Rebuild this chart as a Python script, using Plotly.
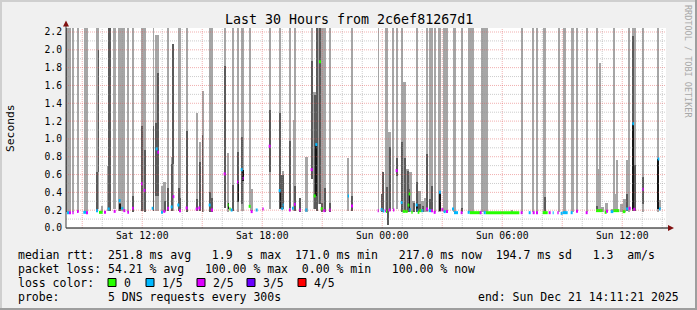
import plotly.graph_objects as go
from datetime import datetime, timedelta

# ---------------- data ----------------
START = datetime(2025, 12, 20, 8, 11, 21)
END = datetime(2025, 12, 21, 14, 11, 21)
Y_TOP = 2.245

tick_times = [datetime(2025, 12, 20, 12), datetime(2025, 12, 20, 18), datetime(2025, 12, 21, 0),
              datetime(2025, 12, 21, 6), datetime(2025, 12, 21, 12)]
tick_text = ["Sat 12:00", "Sat 18:00", "Sun 00:00", "Sun 06:00", "Sun 12:00"]
y_ticks = [0.0, 0.2, 0.4, 0.6, 0.8, 1.0, 1.2, 1.4, 1.6, 1.8, 2.0, 2.2]

# smoke bands: (minutes from start begin, end, low s, high s)
smoke_outer = [
    (0, 14, 0.176, 2.25), (19, 22, 0.176, 2.25), (35, 38, 0.176, 2.25), (53, 67, 0.176, 2.25),
    (90, 99, 0.213, 2.25), (104, 110, 0.176, 0.247), (124, 127, 0.195, 0.693), (141, 151, 0.213, 2.25),
    (157, 177, 0.195, 2.25), (184, 188, 0.176, 2.25), (200, 203, 0.195, 2.25), (225, 240, 0.195, 2.25),
    (261, 264, 0.195, 2.25), (268, 279, 0.195, 2.169), (284, 292, 0.176, 0.476), (292, 301, 0.176, 0.517),
    (305, 309, 0.195, 2.25), (314, 324, 0.195, 0.801), (336, 345, 0.195, 2.25), (359, 366, 0.176, 2.25),
    (389, 397, 0.195, 1.292), (398, 405, 0.195, 0.966), (409, 413, 0.176, 1.543), (429, 441, 0.176, 2.25),
    (473, 479, 0.221, 2.25), (485, 488, 0.176, 0.843), (500, 505, 0.195, 2.25), (515, 519, 0.176, 2.25),
    (524, 534, 0.195, 2.25), (549, 554, 0.251, 2.25), (551, 560, 0.195, 0.438), (608, 614, 0.213, 2.25),
    (638, 646, 0.213, 2.25), (649, 653, 0.213, 0.644), (669, 675, 0.195, 2.25), (681, 690, 0.195, 1.213),
    (684, 690, 0.195, 2.25), (699, 705, 0.176, 0.337), (718, 725, 0.176, 0.798), (734, 742, 0.551, 2.25),
    (742, 755, 0.213, 1.528), (757, 766, 0.27, 2.25), (766, 772, 0.176, 2.25), (772, 780, 0.195, 2.25),
    (788, 795, 0.176, 2.25), (845, 848, 0.195, 0.787), (855, 861, 0.195, 2.25),
    (936, 939, 0.176, 2.25), (944, 952, 0.176, 0.382), (958, 966, 0.213, 2.25), (966, 974, 0.195, 1.082),
    (980, 984, 0.213, 2.25), (989, 996, 0.213, 2.25), (1004, 1012, 0.176, 2.25), (1011, 1019, 0.176, 1.64),
    (1019, 1030, 0.176, 0.659), (1028, 1037, 0.176, 0.633), (1038, 1046, 0.176, 0.307),
    (1049, 1055, 0.176, 2.25), (1056, 1066, 0.176, 0.419), (1066, 1073, 0.176, 0.307),
    (1075, 1081, 0.176, 0.337), (1079, 1087, 0.176, 2.25), (1089, 1096, 0.176, 2.25),
    (1094, 1102, 0.176, 2.25), (1103, 1111, 0.176, 2.25), (1116, 1126, 0.176, 2.25),
    (1131, 1146, 0.176, 2.25), (1161, 1169, 0.176, 2.25), (1184, 1190, 0.176, 2.25),
    (1205, 1224, 0.176, 2.25), (1245, 1250, 0.176, 2.25), (1252, 1266, 0.176, 2.25),
    (1336, 1340, 0.176, 0.202),
    (1364, 1371, 0.176, 2.25), (1400, 1404, 0.176, 2.25), (1409, 1416, 0.176, 2.25),
    (1430, 1439, 0.176, 2.25), (1476, 1480, 0.176, 2.25), (1490, 1500, 0.176, 2.25),
    (1515, 1524, 0.176, 2.25), (1529, 1535, 0.176, 2.25), (1559, 1565, 0.176, 2.25),
    (1589, 1595, 0.195, 2.25), (1594, 1601, 0.195, 0.667), (1599, 1606, 0.195, 1.854),
    (1605, 1614, 0.176, 0.236), (1618, 1626, 0.176, 0.277), (1634, 1640, 0.176, 0.213),
    (1641, 1646, 0.176, 2.25), (1642, 1650, 0.176, 0.382), (1649, 1656, 0.176, 0.764),
    (1663, 1672, 0.176, 0.27), (1670, 1679, 0.176, 0.326), (1679, 1687, 0.195, 0.764),
    (1686, 1690, 0.176, 2.25), (1699, 1709, 0.195, 2.25), (1729, 1733, 0.176, 2.25),
    (1775, 1780, 0.176, 2.25), (1778, 1784, 0.213, 0.315),
]
smoke_inner = [
    (0, 3, 0.176, 2.25), (90, 97, 0.195, 0.629), (96, 99, 0.629, 2.0), (127, 135, 0.195, 2.25),
    (159, 165, 0.195, 0.277), (200, 203, 0.176, 0.36), (225, 231, 0.195, 1.15), (233, 240, 0.176, 0.876),
    (261, 264, 0.195, 1.15), (272, 279, 0.36, 1.742), (268, 279, 0.36, 1.18), (294, 300, 0.195, 0.307),
    (305, 309, 0.195, 0.449), (316, 322, 0.195, 0.719), (320, 323, 0.719, 2.067), (336, 340, 0.195, 0.449),
    (338, 346, 0.195, 0.337), (359, 366, 0.176, 1.094), (390, 396, 0.195, 0.326), (399, 405, 0.195, 0.742),
    (409, 411, 0.176, 1.049), (429, 436, 0.176, 0.40), (436, 441, 0.176, 0.337),
    (473, 479, 0.221, 1.824), (500, 504, 0.195, 0.483), (515, 518, 0.288, 0.854), (525, 532, 0.27, 1.022),
    (608, 614, 0.633, 1.326), (638, 645, 0.213, 1.296), (645, 653, 0.213, 0.60), (669, 674, 0.23, 0.981),
    (683, 689, 0.195, 0.472), (699, 704, 0.176, 0.337), (734, 741, 0.551, 1.88), (744, 753, 0.213, 1.491),
    (750, 757, 0.195, 2.25), (759, 766, 0.27, 2.25), (766, 771, 0.176, 0.281), (774, 780, 0.176, 0.449),
    (789, 794, 0.176, 0.281), (855, 861, 0.195, 0.36),
    (944, 950, 0.176, 0.382), (948, 952, 0.176, 0.629), (960, 966, 0.176, 0.459), (964, 968, 0.034, 0.19),
    (968, 974, 0.195, 0.914), (989, 996, 0.58, 0.787), (1004, 1011, 0.176, 0.966), (1013, 1020, 0.176, 0.787),
    (1022, 1028, 0.176, 0.644), (1028, 1033, 0.176, 0.438), (1042, 1048, 0.176, 0.285),
    (1049, 1055, 0.176, 0.517), (1057, 1066, 0.176, 0.27), (1067, 1073, 0.176, 0.247),
    (1080, 1086, 0.195, 0.831), (1089, 1096, 0.202, 0.326), (1095, 1101, 0.206, 0.472),
    (1119, 1124, 0.195, 0.40), (1185, 1190, 0.176, 0.225),
    (1433, 1439, 0.195, 0.348), (1590, 1595, 0.195, 0.251), (1681, 1687, 0.195, 0.386),
    (1699, 1702, 0.195, 2.157), (1702, 1710, 0.195, 0.708), (1730, 1733, 0.27, 0.577),
]
smoke_core = [
    (161, 164, 0.213, 0.27), (486, 489, 0.213, 0.285), (516, 519, 0.288, 0.517), (529, 532, 0.53, 0.655),
    (642, 645, 0.221, 0.419), (748, 751, 0.36, 0.936), (1029, 1032, 0.195, 0.382), (1051, 1054, 0.195, 0.27),
    (1120, 1123, 0.195, 0.40), (1699, 1702, 0.213, 1.169), (1775, 1778, 0.213, 0.775),
]

# median rtt: (begin, end, seconds, lost pings out of 5)
medians = [
    (3, 9, 0.172, 1), (9, 15, 0.172, 2), (19, 23, 0.172, 2), (33, 38, 0.184, 2), (52, 60, 0.176, 1),
    (60, 66, 0.172, 2), (90, 96, 0.195, 1), (99, 110, 0.176, 0), (114, 120, 0.176, 2), (125, 131, 0.213, 1),
    (143, 149, 0.187, 2), (158, 164, 0.307, 1), (166, 172, 0.221, 1), (172, 178, 0.195, 2),
    (184, 189, 0.176, 2), (198, 203, 0.221, 2), (225, 230, 0.498, 2), (233, 238, 0.423, 2),
    (257, 262, 0.221, 1), (269, 275, 0.888, 1), (274, 279, 0.85, 2), (285, 291, 0.176, 1),
    (292, 298, 0.187, 2), (304, 309, 0.221, 2), (314, 320, 0.236, 1), (320, 325, 0.352, 2),
    (334, 340, 0.258, 1), (339, 345, 0.195, 2), (359, 365, 0.225, 2), (389, 395, 0.213, 2),
    (397, 403, 0.225, 2), (428, 434, 0.258, 1), (435, 441, 0.202, 2),
    (473, 479, 0.607, 2), (485, 488, 0.258, 0), (490, 494, 0.213, 0), (494, 500, 0.202, 1),
    (513, 517, 0.517, 2), (524, 530, 0.655, 1), (530, 533, 0.558, 2), (548, 554, 0.243, 0),
    (554, 560, 0.184, 2), (569, 575, 0.202, 1), (589, 593, 0.213, 2), (608, 614, 0.918, 2),
    (638, 644, 0.419, 1), (646, 652, 0.217, 1), (650, 653, 0.258, 1), (669, 674, 0.202, 2),
    (678, 683, 0.221, 1), (684, 689, 0.266, 2), (700, 704, 0.202, 2), (718, 724, 0.202, 1),
    (734, 740, 0.655, 2), (748, 754, 0.936, 1), (743, 749, 0.36, 0), (759, 765, 1.865, 0),
    (764, 770, 0.217, 0), (772, 778, 0.195, 2), (790, 794, 0.202, 2), (845, 849, 0.36, 1),
    (855, 861, 0.247, 2),
    (935, 938, 0.195, 2), (944, 950, 0.206, 1), (950, 955, 0.191, 1), (957, 960, 0.195, 2),
    (960, 963, 0.184, 0), (968, 974, 0.202, 2), (981, 985, 0.202, 2), (989, 995, 0.644, 2),
    (1004, 1010, 0.285, 1), (1010, 1018, 0.187, 0), (1018, 1025, 0.187, 0), (1025, 1030, 0.258, 0),
    (1028, 1033, 0.382, 0), (1030, 1035, 0.206, 1), (1036, 1040, 0.176, 0), (1049, 1055, 0.258, 1),
    (1052, 1055, 0.202, 1), (1055, 1060, 0.176, 0), (1060, 1070, 0.195, 0), (1066, 1072, 0.195, 1),
    (1080, 1086, 0.213, 2), (1088, 1096, 0.195, 1), (1095, 1101, 0.195, 2), (1103, 1109, 0.176, 2),
    (1119, 1125, 0.40, 1), (1126, 1132, 0.206, 2), (1133, 1139, 0.184, 1), (1140, 1146, 0.184, 2),
    (1158, 1164, 0.213, 1), (1164, 1176, 0.172, 1), (1184, 1190, 0.172, 2), (1205, 1211, 0.176, 1),
    (1211, 1245, 0.172, 0), (1241, 1247, 0.172, 2), (1253, 1259, 0.172, 1), (1259, 1360, 0.172, 0),
    (1364, 1370, 0.172, 2), (1388, 1394, 0.172, 1), (1400, 1406, 0.172, 2), (1410, 1416, 0.172, 2),
    (1430, 1445, 0.172, 0), (1448, 1454, 0.172, 2), (1460, 1463, 0.172, 1), (1474, 1478, 0.172, 2),
    (1484, 1490, 0.165, 1), (1490, 1505, 0.172, 1), (1514, 1520, 0.172, 1), (1530, 1536, 0.187, 2),
    (1559, 1565, 0.172, 2), (1590, 1610, 0.195, 0), (1616, 1622, 0.176, 0), (1620, 1626, 0.187, 2),
    (1634, 1642, 0.184, 1), (1642, 1650, 0.195, 0), (1650, 1660, 0.195, 0), (1670, 1678, 0.184, 0),
    (1680, 1686, 0.213, 1), (1688, 1694, 0.221, 2), (1699, 1704, 1.169, 1), (1702, 1708, 0.21, 2),
    (1729, 1733, 0.434, 2), (1775, 1780, 0.775, 1), (1779, 1784, 0.213, 1),
]

loss_labels = ["0", "1/5", "2/5", "3/5", "4/5"]
loss_colors = ["#26ff00", "#00b8ff", "#dd00ff", "#6a00ff", "#ff0000"]

legend_lines = [
    "median rtt:  251.8 ms avg   1.9  s max  171.0 ms min   217.0 ms now  194.7 ms sd   1.3  am/s",
    "packet loss: 54.21 % avg   100.00 % max  0.00 % min   100.00 % now",
    "loss color:",
    "probe:       5 DNS requests every 300s",
]
end_text = "end: Sun Dec 21 14:11:21 2025"
title_text = "Last 30 Hours from 2c6ef81267d1"

# ---------------- figure ----------------
W, H = 697, 310
L, R, T, B = 66, 31, 28, 82
PW, PH = W - L - R, H - T - B
MONO = "DejaVu Sans Mono"
LEG_SIZE = 11.5


def px(xp):
    return (xp - L) / PW


def py(yp):
    return (T + PH - yp) / PH


def t(m):
    return START + timedelta(minutes=m)


fig = go.Figure()


def add_bands(bands, color):
    fig.add_trace(go.Bar(
        x=[t(b[0]) for b in bands],
        y=[b[3] - b[2] for b in bands],
        base=[b[2] for b in bands],
        width=[(b[1] - b[0]) * 60000 for b in bands],
        offset=0,
        marker=dict(color=color, line=dict(width=0)),
        hoverinfo="skip",
    ))


add_bands(smoke_outer, "#a6a6a6")
add_bands(smoke_inner, "#5a5a5a")
add_bands(smoke_core, "#161616")

for li, col in enumerate(loss_colors):
    xs, ys = [], []
    for b, e, v, l in medians:
        if l == li:
            xs += [t(b), t(e), None]
            ys += [v, v, None]
    if xs:
        fig.add_trace(go.Scatter(x=xs, y=ys, mode="lines", line=dict(color=col, width=3),
                                 hoverinfo="skip"))

MAJ = "rgba(224,80,80,0.45)"
MIN = "rgba(143,143,143,0.45)"
shapes = []
# grid (drawn above the smoke, like rrdtool)
h = START.replace(minute=0, second=0) + timedelta(hours=1)
while h < END:
    major = h.hour % 3 == 0
    shapes.append(dict(type="line", xref="x", yref="paper", x0=h, x1=h, y0=0, y1=1, layer="above",
                       line=dict(color=MAJ if major else MIN, width=1, dash="1px,1px")))
    h += timedelta(hours=1)
for k in range(1, 23):
    v = k / 10
    major = k % 2 == 0
    shapes.append(dict(type="line", xref="paper", yref="y", x0=0, x1=1, y0=v, y1=v, layer="above",
                       line=dict(color=MAJ if major else MIN, width=1, dash="1px,1px")))

# axes with arrows
shapes.append(dict(type="line", xref="paper", yref="paper", x0=px(66), x1=px(670), y0=0, y1=0,
                   line=dict(color="#000000", width=1), layer="above"))
shapes.append(dict(type="line", xref="paper", yref="paper", x0=0, x1=0, y0=0, y1=py(24),
                   line=dict(color="#404040", width=1), layer="above"))
shapes.append(dict(type="path", xref="paper", yref="paper",
                   path=f"M {px(668)},{py(225)} L {px(674)},{py(228)} L {px(668)},{py(231)} Z",
                   fillcolor="#801010", line=dict(width=0), layer="above"))
shapes.append(dict(type="path", xref="paper", yref="paper",
                   path=f"M {px(63)},{py(26.5)} L {px(66)},{py(20.5)} L {px(69)},{py(26.5)} Z",
                   fillcolor="#801010", line=dict(width=0), layer="above"))

# frame shading
shapes += [
    dict(type="rect", xref="paper", yref="paper", x0=px(0), x1=px(W), y0=py(0), y1=py(2),
         fillcolor="#cfcfcf", line=dict(width=0)),
    dict(type="rect", xref="paper", yref="paper", x0=px(0), x1=px(2), y0=py(0), y1=py(H),
         fillcolor="#cfcfcf", line=dict(width=0)),
    dict(type="rect", xref="paper", yref="paper", x0=px(0), x1=px(W), y0=py(H - 2), y1=py(H),
         fillcolor="#9e9e9e", line=dict(width=0)),
    dict(type="rect", xref="paper", yref="paper", x0=px(W - 2), x1=px(W), y0=py(0), y1=py(H),
         fillcolor="#9e9e9e", line=dict(width=0)),
]

annotations = []
annotations.append(dict(text=title_text, x=px(W / 2), y=py(20), xref="paper", yref="paper",
                        xanchor="center", yanchor="middle", showarrow=False,
                        font=dict(family=MONO, size=13.3, color="#000")))
annotations.append(dict(text="Seconds", x=px(10), y=py(T + PH / 2), xref="paper", yref="paper",
                        xanchor="center", yanchor="middle", textangle=-90, showarrow=False,
                        font=dict(family=MONO, size=11.3, color="#000")))
annotations.append(dict(text="RRDTOOL / TOBI OETIKER", x=px(688), y=py(61), xref="paper", yref="paper",
                        xanchor="center", yanchor="middle", textangle=90, showarrow=False,
                        font=dict(family=MONO, size=8.5, color="#a8a8a8")))

line_y = [254.5, 268.5, 282.5, 296.5]
for txt, yy in zip(legend_lines, line_y):
    annotations.append(dict(text=txt.replace(" ", "\u00a0"), x=px(16), y=py(yy), xref="paper",
                            yref="paper", xanchor="left", yanchor="middle", showarrow=False,
                            font=dict(family=MONO, size=LEG_SIZE, color="#000")))
annotations.append(dict(text=end_text.replace(" ", "\u00a0"), x=px(681), y=py(line_y[3]), xref="paper",
                        yref="paper", xanchor="right", yanchor="middle", showarrow=False,
                        font=dict(family=MONO, size=LEG_SIZE, color="#000")))

box_x = [108, 146, 197, 247, 298]
for bx, lab, col in zip(box_x, loss_labels, loss_colors):
    shapes.append(dict(type="rect", xref="paper", yref="paper", x0=px(bx), x1=px(bx + 8),
                       y0=py(line_y[2] + 4), y1=py(line_y[2] - 4), fillcolor=col,
                       line=dict(color="#000", width=1)))
    annotations.append(dict(text=lab, x=px(bx + 14), y=py(line_y[2]), xref="paper", yref="paper",
                            xanchor="left", yanchor="middle", showarrow=False,
                            font=dict(family=MONO, size=LEG_SIZE, color="#000")))

fig.update_layout(
    width=W, height=H, margin=dict(l=L, r=R, t=T, b=B, autoexpand=False),
    paper_bgcolor="#f0f0f0", plot_bgcolor="#ffffff",
    barmode="overlay", bargap=0, showlegend=False,
    shapes=shapes, annotations=annotations,
    xaxis=dict(type="date", range=[START, END], tickvals=tick_times, ticktext=tick_text,
               showgrid=False, zeroline=False, showline=False, ticks="", fixedrange=True,
               tickfont=dict(family=MONO, size=9.7, color="#000")),
    yaxis=dict(range=[0, Y_TOP], tickvals=y_ticks, ticktext=[f"{v:.1f}" for v in y_ticks],
               showgrid=False, zeroline=False, showline=False, ticks="", fixedrange=True,
               ticklabelstandoff=3,
               tickfont=dict(family=MONO, size=9.7, color="#000")),
)

fig.write_html("out.html", config={"displayModeBar": False})
